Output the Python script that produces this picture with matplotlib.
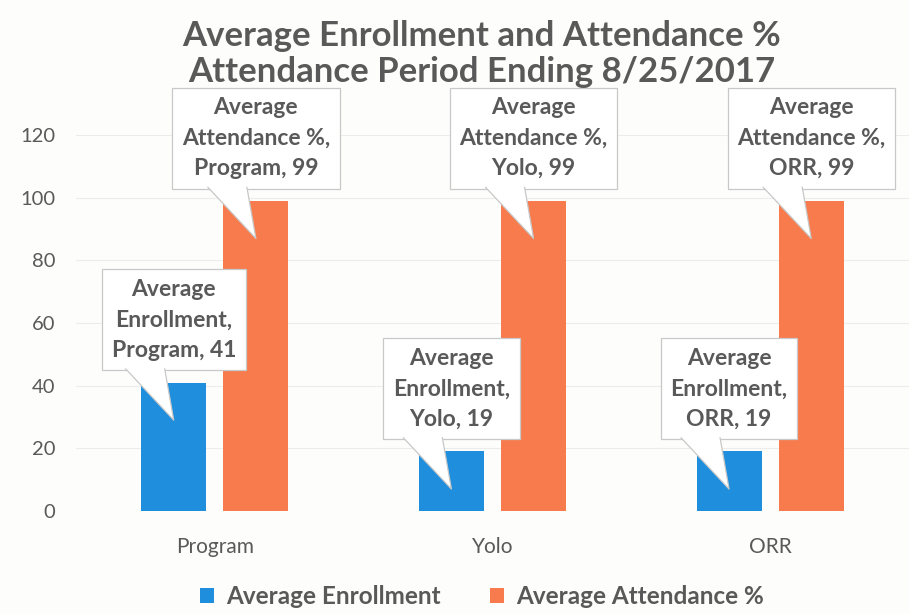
import numpy as np
import matplotlib.pyplot as plt
from matplotlib.patches import Polygon

categories = ["Program", "Yolo", "ORR"]
enrollment = [41, 19, 19]
attendance = [99, 99, 99]
series_names = ["Average Enrollment", "Average Attendance %"]

blue = "#1E8EDD"
orange = "#F77B4D"
grey = "#595959"
font = "Lato"

fig = plt.figure(figsize=(9.09, 6.14), dpi=100, facecolor="#fdfdfb")
ax = fig.add_axes([0.0836, 0.1678, 0.9164, 0.612])
ax.set_facecolor("#fdfdfb")

x = np.arange(len(categories))
w = 0.234
off = 0.148
b1 = ax.bar(x - off, enrollment, w, color=blue, label=series_names[0], zorder=3)
b2 = ax.bar(x + off, attendance, w, color=orange, label=series_names[1], zorder=3)

ax.set_xlim(-0.5, len(categories) - 0.5)
ax.set_ylim(0, 120)
ax.set_yticks(range(0, 121, 20))
ax.set_xticks(x)
ax.set_xticklabels(categories, fontsize=15, color=grey, fontfamily=font)
for lab in ax.get_yticklabels():
    lab.set_fontsize(14.5)
    lab.set_color(grey)
    lab.set_fontfamily(font)
ax.tick_params(length=0)
ax.tick_params(axis="x", pad=19)
ax.tick_params(axis="y", pad=15)
ax.grid(axis="y", color="#ececec", lw=0.8, zorder=0)
for s in ax.spines.values():
    s.set_visible(False)

fig.text(0.53, 0.942, "Average Enrollment and Attendance %", ha="center", va="center",
         fontsize=25, fontweight="bold", color=grey, fontfamily=font)
fig.text(0.53, 0.882, "Attendance Period Ending 8/25/2017", ha="center", va="center",
         fontsize=25, fontweight="bold", color=grey, fontfamily=font)

leg = fig.legend(handles=[b1, b2], loc="center", bbox_to_anchor=(0.53, 0.028), ncol=2,
                 frameon=False, handlelength=0.6, handleheight=0.6, columnspacing=2.0,
                 handletextpad=0.5, prop={"family": font, "weight": "bold", "size": 17.5})
for t in leg.get_texts():
    t.set_color(grey)

# callouts
labels = []
for i, c in enumerate(categories):
    labels.append((x[i] - off, enrollment[i], f"Average\nEnrollment,\n{c}, {enrollment[i]}"))
    labels.append((x[i] + off, attendance[i], f"Average\nAttendance %,\n{c}, {attendance[i]}"))

texts = []
for bx, v, s in labels:
    t = ax.text(bx, v + 3 + 17, s, ha="center", va="center", fontsize=16.5, fontweight="bold",
                color=grey, fontfamily=font, linespacing=1.55, zorder=6, clip_on=False,
                bbox=dict(boxstyle="square,pad=0.42", fc="white", ec="#c8c8c8", lw=0.9))
    texts.append((t, bx, v))

fig.canvas.draw()
inv = ax.transData.inverted()
for t, bx, v in texts:
    bb = t.get_bbox_patch().get_window_extent()
    tip = ax.transData.transform((bx, v - 12))
    y0 = bb.y0
    pts = [(tip[0] - 48, y0 + 1.5), (tip[0], tip[1]), (tip[0] - 9, y0 + 1.5)]
    dpts = inv.transform(pts)
    ax.add_patch(Polygon(dpts, closed=True, fc="white", ec="none", zorder=7, clip_on=False))
    ax.plot([dpts[0][0], dpts[1][0], dpts[2][0]], [dpts[0][1], dpts[1][1], dpts[2][1]],
            color="#c8c8c8", lw=0.9, zorder=8, clip_on=False)

fig.savefig("out.png", dpi=100, facecolor=fig.get_facecolor())
